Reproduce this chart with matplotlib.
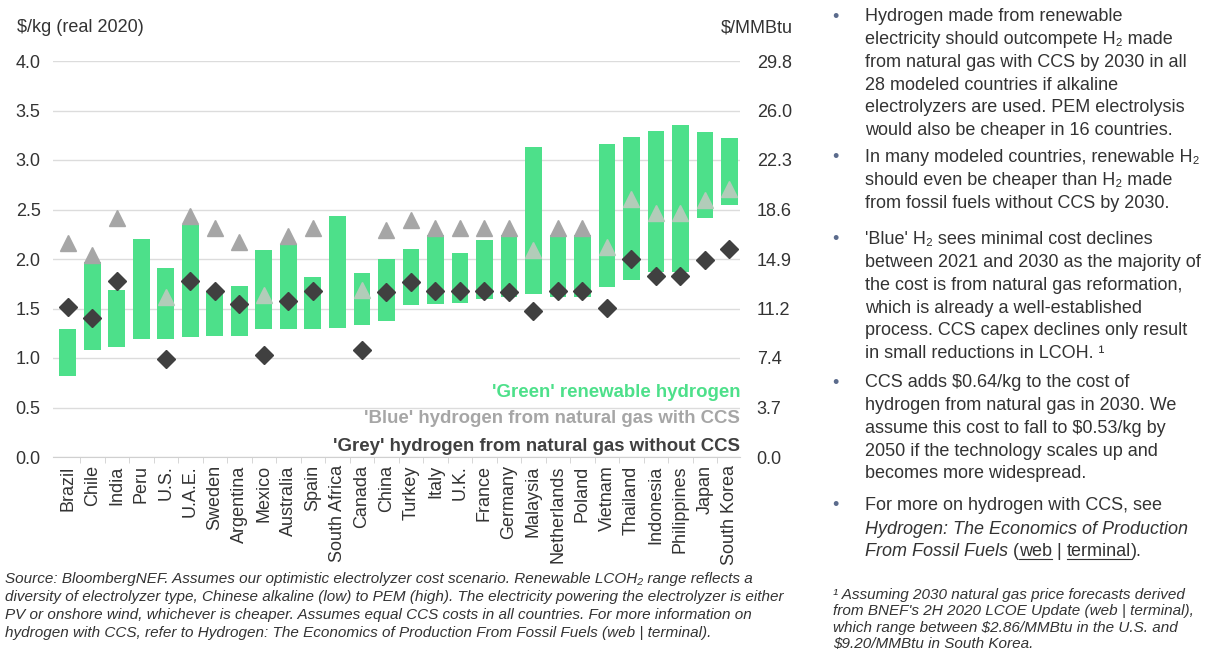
import numpy as np
import matplotlib.pyplot as plt
from matplotlib.lines import Line2D

plt.rcParams['font.family'] = ['Liberation Sans', 'DejaVu Sans']

countries = ['Brazil', 'Chile', 'India', 'Peru', 'U.S.', 'U.A.E.', 'Sweden', 'Argentina',
             'Mexico', 'Australia', 'Spain', 'South Africa', 'Canada', 'China', 'Turkey',
             'Italy', 'U.K.', 'France', 'Germany', 'Malaysia', 'Netherlands', 'Poland',
             'Vietnam', 'Thailand', 'Indonesia', 'Philippines', 'Japan', 'South Korea']

# green hydrogen range, $/kg
green_low = [0.82, 1.08, 1.11, 1.19, 1.19, 1.21, 1.22, 1.22, 1.29, 1.29, 1.29, 1.30, 1.33, 1.37,
             1.54, 1.55, 1.56, 1.60, 1.62, 1.65, 1.62, 1.62, 1.72, 1.79, 1.87, 1.87, 2.41, 2.55]
green_high = [1.29, 1.97, 1.69, 2.20, 1.91, 2.34, 1.67, 1.73, 2.09, 2.15, 1.82, 2.43, 1.86, 2.00,
              2.10, 2.24, 2.06, 2.19, 2.24, 3.13, 2.24, 2.24, 3.16, 3.23, 3.29, 3.35, 3.28, 3.22]
# blue (with CCS) and grey (without CCS), nan = not modeled
blue = [2.16, 2.04, 2.41, np.nan, 1.62, 2.43, 2.31, 2.17, 1.64, 2.23, 2.31, np.nan, 1.69, 2.29,
        2.39, 2.31, 2.31, 2.31, 2.31, 2.09, 2.31, 2.31, 2.12, 2.61, 2.46, 2.46, 2.60, 2.71]
grey = [1.52, 1.40, 1.78, np.nan, 0.99, 1.78, 1.68, 1.55, 1.03, 1.58, 1.68, np.nan, 1.08, 1.67,
        1.77, 1.68, 1.68, 1.68, 1.67, 1.47, 1.68, 1.68, 1.51, 2.00, 1.83, 1.83, 1.99, 2.10]

left_ticks = [0.0, 0.5, 1.0, 1.5, 2.0, 2.5, 3.0, 3.5, 4.0]
right_labels = ['0.0', '3.7', '7.4', '11.2', '14.9', '18.6', '22.3', '26.0', '29.8']

GREEN = '#4de08a'
BLUE_GREY = '#a6a6a6'
DARK = '#404040'
TXT = '#333333'
BUL = '#5b6b8c'

W, H = 1214, 659
fig = plt.figure(figsize=(W / 100, H / 100), dpi=100)
ax = fig.add_axes([53 / W, 1 - 457 / H, 687 / W, 396 / H])


def fy(ypix):
    return 1 - ypix / H


x = np.arange(len(countries))
low = np.array(green_low)
high = np.array(green_high)
b = np.array(blue)

ax.bar(x, high - low, bottom=low, width=0.69, color=GREEN, zorder=3)

inside = (b >= low) & (b <= high)
ax.plot(x[~inside], b[~inside], linestyle='none', marker='^', ms=11,
        color=BLUE_GREY, zorder=4)
ax.plot(x[inside], b[inside], linestyle='none', marker='^', ms=11,
        color='#b2ccb9', zorder=4)
ax.plot(x, grey, linestyle='none', marker='D', ms=9.5, color=DARK, zorder=5)

ax.set_xlim(-0.61, 27.43)
ax.set_ylim(0, 4.0)
ax.set_yticks(left_ticks)
ax.set_yticklabels([f'{v:.1f}' for v in left_ticks])
ax.grid(axis='y', color='#dcdcdc', lw=1, zorder=0)
ax.set_axisbelow(True)
for s in ['top', 'right', 'left']:
    ax.spines[s].set_visible(False)
ax.spines['bottom'].set_color('#d0d0d0')
ax.tick_params(axis='y', length=0, labelsize=13, labelcolor=TXT, pad=9)
ax.set_xticks(x)
ax.set_xticklabels(countries, rotation=90, fontsize=13, color=TXT)
ax.tick_params(axis='x', length=0, pad=6)
ax.set_xticks(x[:-1] + 0.5, minor=True)
ax.tick_params(axis='x', which='minor', length=4, color='#d0d0d0')

ax2 = ax.twinx()
ax2.set_ylim(0, 4.0)
ax2.set_yticks(left_ticks)
ax2.set_yticklabels(right_labels)
ax2.tick_params(axis='y', length=0, labelsize=13, labelcolor=TXT, pad=12)
for s in ax2.spines.values():
    s.set_visible(False)

fig.text(17 / W, fy(28), '$/kg (real 2020)', fontsize=13, color=TXT, va='center')
fig.text(793 / W, fy(28), '$/MMBtu', fontsize=13, color=TXT, va='center', ha='right')

# legend text
ax.text(27.43, 0.65, "'Green' renewable hydrogen", color=GREEN, fontsize=13.4,
        fontweight='bold', ha='right', va='center', zorder=6)
ax.text(27.43, 0.385, "'Blue' hydrogen from natural gas with CCS", color=BLUE_GREY, fontsize=13.4,
        fontweight='bold', ha='right', va='center', zorder=6)
ax.text(27.43, 0.105, "'Grey' hydrogen from natural gas without CCS", color=DARK, fontsize=13.4,
        fontweight='bold', ha='right', va='center', zorder=6)

# source note
source = ("Source: BloombergNEF. Assumes our optimistic electrolyzer cost scenario. Renewable LCOH\u2082 range reflects a\n"
          "diversity of electrolyzer type, Chinese alkaline (low) to PEM (high). The electricity powering the electrolyzer is either\n"
          "PV or onshore wind, whichever is cheaper. Assumes equal CCS costs in all countries. For more information on\n"
          "hydrogen with CCS, refer to Hydrogen: The Economics of Production From Fossil Fuels (web | terminal).")
fig.text(5 / W, fy(572), source, fontsize=11, style='italic', color=TXT,
         va='top', linespacing=1.36)

# right panel bullets
bullets = [
    (17, "Hydrogen made from renewable\nelectricity should outcompete H\u2082 made\n"
         "from natural gas with CCS by 2030 in all\n28 modeled countries if alkaline\n"
         "electrolyzers are used. PEM electrolysis\nwould also be cheaper in 16 countries."),
    (158, "In many modeled countries, renewable H\u2082\nshould even be cheaper than H\u2082 made\n"
          "from fossil fuels without CCS by 2030."),
    (240, "'Blue' H\u2082 sees minimal cost declines\nbetween 2021 and 2030 as the majority of\n"
          "the cost is from natural gas reformation,\nwhich is already a well-established\n"
          "process. CCS capex declines only result\nin small reductions in LCOH. \u00b9"),
    (383, "CCS adds $0.64/kg to the cost of\nhydrogen from natural gas in 2030. We\n"
          "assume this cost to fall to $0.53/kg by\n2050 if the technology scales up and\n"
          "becomes more widespread."),
]
PANEL_FS = 13
for ypix, body in bullets:
    fig.text(832 / W, fy(ypix), '\u2022', fontsize=13, color=BUL, va='center')
    fig.text(865 / W, fy(ypix - 9), body, fontsize=PANEL_FS, color=TXT, va='top',
             linespacing=1.45)

fig.text(832 / W, fy(506), '\u2022', fontsize=13, color=BUL, va='center')
fig.text(865 / W, fy(506), 'For more on hydrogen with CCS, see', fontsize=PANEL_FS,
         color=TXT, va='center')
fig.text(865 / W, fy(529), 'Hydrogen: The Economics of Production', fontsize=PANEL_FS,
         color=TXT, va='center', style='italic')
t0 = fig.text(865 / W, fy(552), 'From Fossil Fuels', fontsize=PANEL_FS,
              color=TXT, va='center', style='italic')

underline = []
prev = t0
for piece, ul in [(' (', False), ('web', True), (' | ', False), ('terminal', True), (').', False)]:
    prev = ax.annotate(piece, xy=(1, 0), xycoords=prev, va='bottom', ha='left',
                       fontsize=PANEL_FS, color=TXT, annotation_clip=False)
    if ul:
        underline.append(prev)

foot_lines = ["\u00b9 Assuming 2030 natural gas price forecasts derived",
              "from BNEF's 2H 2020 LCOE Update (web | terminal),",
              "which range between $2.86/MMBtu in the U.S. and",
              "$9.20/MMBtu in South Korea."]
fig.text(833 / W, fy(588), '\n'.join(foot_lines), fontsize=11, style='italic', color=TXT,
         va='top', linespacing=1.22)

# draw underlines under link words
fig.canvas.draw()
for txt in underline:
    bb = txt.get_window_extent()
    y = bb.y0 + 2
    fig.add_artist(Line2D([bb.x0 / W, bb.x1 / W], [y / H, y / H], color=TXT, lw=0.8,
                          transform=fig.transFigure))

fig.savefig('out.png', dpi=100)
